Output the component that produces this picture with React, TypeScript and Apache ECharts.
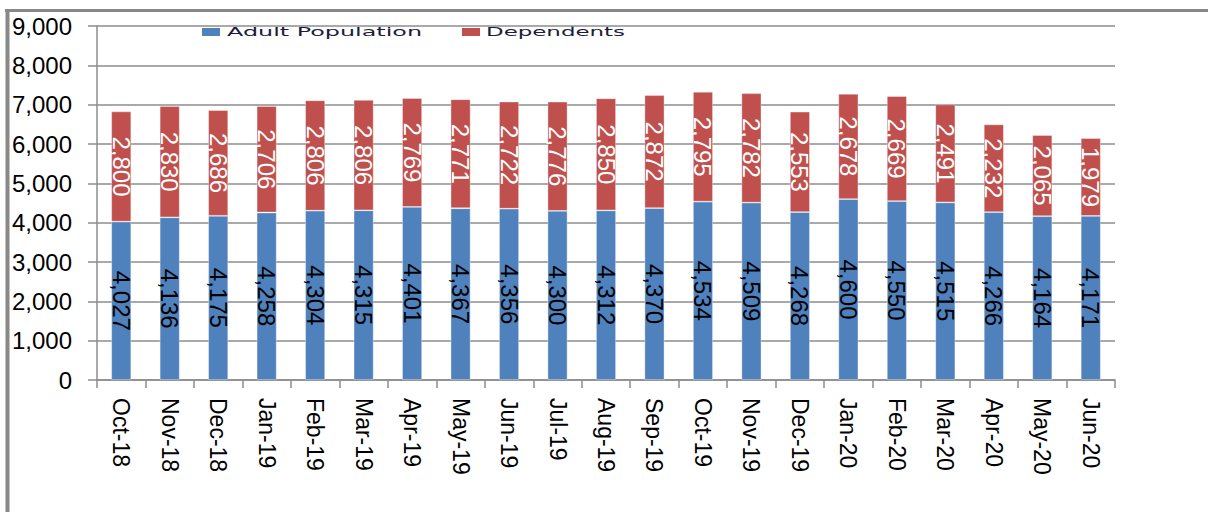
import React, { useEffect, useRef } from "react";
import * as echarts from "echarts";

const months = [
  "Oct-18", "Nov-18", "Dec-18", "Jan-19", "Feb-19", "Mar-19", "Apr-19",
  "May-19", "Jun-19", "Jul-19", "Aug-19", "Sep-19", "Oct-19", "Nov-19",
  "Dec-19", "Jan-20", "Feb-20", "Mar-20", "Apr-20", "May-20", "Jun-20",
];
const adultPopulation = [
  4027, 4136, 4175, 4258, 4304, 4315, 4401, 4367, 4356, 4300, 4312, 4370,
  4534, 4509, 4268, 4600, 4550, 4515, 4266, 4164, 4171,
];
const dependents = [
  2800, 2830, 2686, 2706, 2806, 2806, 2769, 2771, 2722, 2776, 2850, 2872,
  2795, 2782, 2553, 2678, 2669, 2491, 2232, 2065, 1979,
];
const seriesNames = ["Adult Population", "Dependents"];
const colors = ["#4F81BD", "#C0504D"];

const fmt = (v: number) => v.toLocaleString("en-US");
const FONT = "'Liberation Sans', Arial, sans-serif";

export default function App() {
  const ref = useRef<HTMLDivElement>(null);
  useEffect(() => {
    if (!ref.current) return;
    const chart = echarts.init(ref.current, undefined, { renderer: "svg" });
    const labelBase = {
      show: true,
      position: "inside" as const,
      rotate: -90,
      fontSize: 24,
      fontFamily: FONT,
      formatter: (p: any) => fmt(p.value),
    };
    chart.setOption({
      animation: false,
      backgroundColor: "#ffffff",
      grid: { left: 97, right: 93, top: 26, bottom: 132, containLabel: false },
      legend: { show: false },
      xAxis: {
        type: "category",
        data: months,
        boundaryGap: true,
        axisLine: { show: true, lineStyle: { color: "#8c8c8c", width: 1.5 } },
        axisTick: { show: true, length: 8, alignWithLabel: false, lineStyle: { color: "#8c8c8c", width: 1.5 } },
        axisLabel: {
          rotate: -90,
          margin: 18,
          fontSize: 23,
          fontFamily: FONT,
          color: "#000",
          interval: 0,
        },
      },
      yAxis: {
        type: "value",
        min: 0,
        max: 9000,
        interval: 1000,
        axisLine: { show: true, lineStyle: { color: "#8c8c8c", width: 1.5 } },
        axisTick: { show: true, length: 9, lineStyle: { color: "#8c8c8c", width: 1.5 } },
        splitLine: { show: true, lineStyle: { color: "#8c8c8c", width: 1.5 } },
        axisLabel: {
          margin: 25,
          fontSize: 24,
          fontFamily: FONT,
          color: "#000",
          formatter: (v: number) => fmt(v),
        },
      },
      series: [
        {
          name: seriesNames[0],
          type: "bar",
          stack: "total",
          barWidth: 20,
          data: adultPopulation,
          itemStyle: { color: colors[0], borderColor: "rgba(255,255,255,0.45)", borderWidth: 0.8 },
          label: { ...labelBase, color: "#000" },
        },
        {
          name: seriesNames[1],
          type: "bar",
          stack: "total",
          barWidth: 20,
          data: dependents,
          itemStyle: { color: colors[1], borderColor: "rgba(255,255,255,0.45)", borderWidth: 0.8 },
          label: { ...labelBase, color: "#fff" },
        },
      ],
      graphic: {
        z: 10,
        elements: [
          // outer frame
          { type: "line", shape: { x1: 5, y1: 10.5, x2: 1208, y2: 10.5 }, style: { stroke: "#888", lineWidth: 3 } },
          { type: "line", shape: { x1: 7.5, y1: 9, x2: 7.5, y2: 512 }, style: { stroke: "#888", lineWidth: 4 } },
          // legend box
          { type: "rect", shape: { x: 194, y: 19, width: 439, height: 19 }, style: { fill: "#fff" } },
          { type: "rect", shape: { x: 202, y: 28, width: 18, height: 8 }, style: { fill: colors[0] } },
          {
            type: "text",
            x: 227,
            y: 32,
            scaleX: 1.99,
            style: {
              text: seriesNames[0],
              fill: "#1c1c3c",
              font: "12px 'DejaVu Sans', sans-serif",
              textVerticalAlign: "middle",
              verticalAlign: "middle",
            },
          },
          { type: "rect", shape: { x: 462, y: 28, width: 18, height: 8 }, style: { fill: colors[1] } },
          {
            type: "text",
            x: 486,
            y: 32,
            scaleX: 1.91,
            style: {
              text: seriesNames[1],
              fill: "#1c1c3c",
              font: "12px 'DejaVu Sans', sans-serif",
              textVerticalAlign: "middle",
              verticalAlign: "middle",
            },
          },
        ],
      },
    });
    return () => chart.dispose();
  }, []);
  return (
    <div
      ref={ref}
      style={{ position: "absolute", left: 0, top: 0, width: 1208, height: 512 }}
    />
  );
}
